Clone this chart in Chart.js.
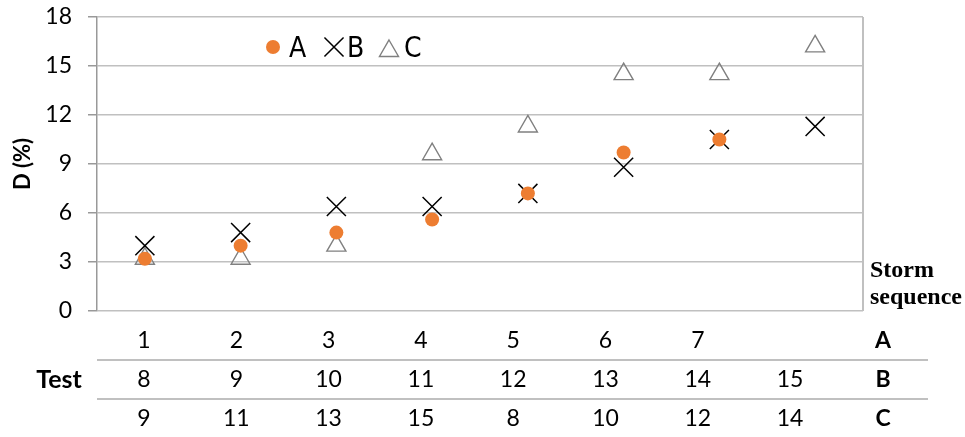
<!DOCTYPE html>
<html>
<head>
<meta charset="utf-8">
<script src="https://cdn.jsdelivr.net/npm/chart.js@4.4.1/dist/chart.umd.min.js"></script>
<style>
html, body { margin: 0; padding: 0; background: #fff; }
#wrap { position: relative; width: 965px; height: 437px; }
</style>
</head>
<body>
<div id="wrap"><canvas id="chart" width="965" height="437"></canvas></div>
<script>
`use strict`;
// storm sequence slots (x) and D (%) per test series
const categories = ['1', '2', '3', '4', '5', '6', '7', '8'];
const seriesA = [3.2, 4.0, 4.8, 5.6, 7.2, 9.7, 10.5, null];
const seriesB = [4.0, 4.8, 6.4, 6.4, 7.2, 8.8, 10.5, 11.3];
const seriesC = [3.2, 3.2, 4.0, 9.6, 11.3, 14.5, 14.5, 16.2];
const yTicks = [0, 3, 6, 9, 12, 15, 18];

// test numbers table under the chart
const testA = ['1', '2', '3', '4', '5', '6', '7', ''];
const testB = ['8', '9', '10', '11', '12', '13', '14', '15'];
const testC = ['9', '11', '13', '15', '8', '10', '12', '14'];
const rowNames = ['A', 'B', 'C'];

const NUM_FONT = 'Lato, "Open Sans", sans-serif';

// 오른쪽 테두리
const framePlugin = {
    id: 'frame',
    beforeDatasetsDraw(chart) {
        const a = chart.chartArea;
        const ctx = chart.ctx;
        ctx.save();
        ctx.strokeStyle = '#c0c0c0';
        ctx.lineWidth = 2;
        ctx.beginPath();
        ctx.moveTo(a.right, a.top);
        ctx.lineTo(a.right, a.bottom);
        ctx.stroke();
        ctx.restore();
    }
};

// 범례 (차트 안쪽)
const legendPlugin = {
    id: 'innerLegend',
    afterDatasetsDraw(chart) {
        const ctx = chart.ctx;
        const items = [
            { x: 273, y: 47, tx: 289 },
            { x: 334, y: 47, tx: 347 },
            { x: 389, y: 51, tx: 404 }
        ];
        ctx.save();
        chart.data.datasets.forEach((ds, i) => {
            const it = items[i];
            ctx.fillStyle = ds.backgroundColor;
            ctx.strokeStyle = ds.borderColor;
            ctx.lineWidth = ds.borderWidth;
            Chart.helpers.drawPoint(ctx, {
                pointStyle: ds.pointStyle,
                radius: ds.pointRadius,
                rotation: 0,
                borderWidth: ds.borderWidth
            }, it.x, it.y);
            ctx.fillStyle = '#000';
            ctx.font = '28px "Liberation Sans Narrow", "DejaVu Sans Condensed", sans-serif';
            ctx.textBaseline = 'alphabetic';
            ctx.textAlign = 'left';
            ctx.fillText(ds.label, it.tx, 57);
        });
        ctx.restore();
    }
};

// 하단 Test 표 + Storm sequence
const tablePlugin = {
    id: 'testTable',
    afterDraw(chart) {
        const ctx = chart.ctx;
        const colStart = 144, colStep = 92.3;
        const rowsY = [341, 380, 419];
        const rows = [testA, testB, testC];
        ctx.save();
        ctx.strokeStyle = '#c0c0c0';
        ctx.lineWidth = 2;
        [360, 399].forEach(y => {
            ctx.beginPath();
            ctx.moveTo(97, y);
            ctx.lineTo(928, y);
            ctx.stroke();
        });
        ctx.fillStyle = '#000';
        ctx.textAlign = 'center';
        ctx.textBaseline = 'middle';
        rows.forEach((row, r) => {
            ctx.font = `23px ${NUM_FONT}`;
            row.forEach((v, i) => {
                ctx.fillText(v, colStart + i * colStep, rowsY[r]);
            });
            ctx.font = `bold 23px ${NUM_FONT}`;
            ctx.fillText(rowNames[r], 883, rowsY[r]);
        });
        ctx.font = `bold 25px ${NUM_FONT}`;
        ctx.fillText('Test', 59, rowsY[1]);

        ctx.textAlign = 'left';
        ctx.textBaseline = 'alphabetic';
        ctx.font = 'bold 24px "Liberation Serif", "DejaVu Serif", serif';
        ctx.fillText('Storm', 870, 277);
        ctx.fillText('sequence', 870, 304);
        ctx.restore();
    }
};

new Chart(document.getElementById('chart'), {
    type: 'scatter',
    data: {
        labels: categories,
        datasets: [{
            label: 'A',
            data: seriesA,
            pointStyle: 'circle',
            pointRadius: 7,
            backgroundColor: '#ED7D31',
            borderColor: '#ED7D31',
            borderWidth: 0
        },
        {
            label: 'B',
            data: seriesB,
            pointStyle: 'crossRot',
            pointRadius: 13.5,
            backgroundColor: 'rgba(0,0,0,0)',
            borderColor: '#000',
            borderWidth: 1.5
        },
        {
            label: 'C',
            data: seriesC,
            pointStyle: 'triangle',
            pointRadius: 11,
            backgroundColor: 'rgba(0,0,0,0)',
            borderColor: '#808080',
            borderWidth: 1.4
        }]
    },
    options: {
        responsive: false,
        animation: false,
        layout: { padding: { left: 0, top: 17, right: 102, bottom: 126 } },
        scales: {
            x: {
                type: 'category',
                labels: categories,
                offset: true,
                display: false
            },
            y: {
                min: 0,
                max: 18,
                afterBuildTicks: (axis) => { axis.ticks = yTicks.map(v => ({ value: v })); },
                afterFit: (axis) => {
                    axis.width = 97;
                    axis.paddingTop = 12;
                    axis.paddingBottom = 12;
                },
                ticks: {
                    color: '#000',
                    padding: 16,
                    font: { family: NUM_FONT, size: 23 }
                },
                grid: {
                    color: '#c0c0c0',
                    lineWidth: 1.5,
                    tickLength: 9,
                    tickColor: '#999'
                },
                border: { color: '#999', width: 1.5 },
                title: {
                    display: true,
                    text: 'D (%)',
                    color: '#000',
                    padding: { top: 10, bottom: 0 },
                    font: { family: NUM_FONT, size: 22, weight: 'bold' }
                }
            }
        },
        plugins: {
            legend: { display: false },
            tooltip: { enabled: false }
        }
    },
    plugins: [framePlugin, legendPlugin, tablePlugin]
});
</script>
</body>
</html>
